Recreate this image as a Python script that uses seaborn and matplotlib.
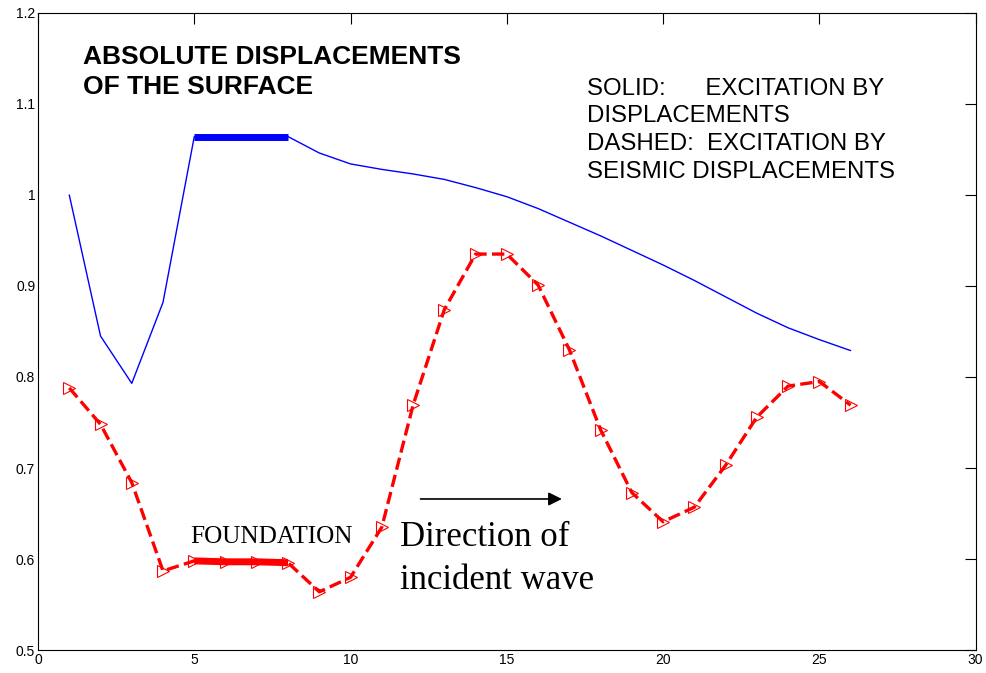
import numpy as np
import pandas as pd
import seaborn as sns
import matplotlib.pyplot as plt
from matplotlib.ticker import FormatStrFormatter

# ----------- Data ------------------------------------------

nodes = list(range(1, 27))

solid_disp = [1.000, 0.845, 0.793, 0.882, 1.064, 1.064, 1.064, 1.064, 1.046, 1.034,
              1.028, 1.023, 1.017, 1.008, 0.998, 0.985, 0.970, 0.955, 0.939, 0.923,
              0.906, 0.888, 0.870, 0.854, 0.841, 0.829]

dashed_disp = [0.788, 0.748, 0.684, 0.587, 0.598, 0.597, 0.597, 0.596, 0.564, 0.580,
               0.635, 0.769, 0.874, 0.935, 0.935, 0.901, 0.830, 0.742, 0.673, 0.641,
               0.657, 0.703, 0.756, 0.790, 0.795, 0.769]

foundation_nodes = [5, 6, 7, 8]

x_ticks = [0, 5, 10, 15, 20, 25, 30]
y_ticks = [0.5, 0.6, 0.7, 0.8, 0.9, 1.0, 1.1, 1.2]

df = pd.DataFrame({'node': nodes, 'solid': solid_disp, 'dashed': dashed_disp})
found_df = df[df['node'].isin(foundation_nodes)]

# ----------- Plot ---------------------

sns.set_style("white")
plt.rcParams['font.family'] = ['Liberation Sans', 'DejaVu Sans']
plt.rcParams['text.color'] = 'black'
plt.rcParams['xtick.color'] = 'black'
plt.rcParams['ytick.color'] = 'black'

fig = plt.figure(figsize=(9.87, 6.73), dpi=100)
ax = fig.add_axes([0.0385, 0.034, 0.950, 0.947])

sns.lineplot(data=df, x='node', y='solid', color='blue', lw=1, ax=ax)
sns.lineplot(data=found_df, x='node', y='solid', color='blue', lw=5,
             solid_capstyle='butt', ax=ax)

sns.lineplot(data=df, x='node', y='dashed', color='red', lw=2.4, linestyle='--',
             marker='>', markersize=9, markerfacecolor='none', markeredgecolor='red',
             markeredgewidth=0.8, ax=ax)
sns.lineplot(data=found_df, x='node', y='dashed', color='red', lw=5,
             solid_capstyle='butt', ax=ax)

ax.set_xlim(0, 30)
ax.set_ylim(0.5, 1.2)
ax.set_xticks(x_ticks)
ax.set_yticks(y_ticks)
ax.yaxis.set_major_formatter(FormatStrFormatter('%g'))
ax.set_xlabel('')
ax.set_ylabel('')
ax.tick_params(direction='in', length=8, width=0.8, top=True, right=True,
               labelsize=10, pad=2)
for s in ax.spines.values():
    s.set_linewidth(0.8)
    s.set_color('black')

ax.text(1.44, 1.135, 'ABSOLUTE DISPLACEMENTS\nOF THE SURFACE', fontsize=19,
        fontweight='bold', va='center', ha='left', linespacing=1.3)
ax.text(17.55, 1.071, 'SOLID:      EXCITATION BY\nDISPLACEMENTS\n'
        'DASHED:  EXCITATION BY\nSEISMIC DISPLACEMENTS',
        fontsize=17.3, va='center', ha='left', linespacing=1.33)
ax.text(4.87, 0.624, 'FOUNDATION', fontsize=18.2, family='Liberation Serif',
        va='center', ha='left')
ax.text(11.58, 0.600, 'Direction of\nincident wave', fontsize=25,
        family='Liberation Serif', va='center', ha='left', linespacing=1.4)
ax.annotate('', xy=(16.85, 0.666), xytext=(12.15, 0.666),
            arrowprops=dict(arrowstyle='-|>', color='black', lw=1.2,
                            mutation_scale=20))

fig.savefig('out.png', dpi=100)
